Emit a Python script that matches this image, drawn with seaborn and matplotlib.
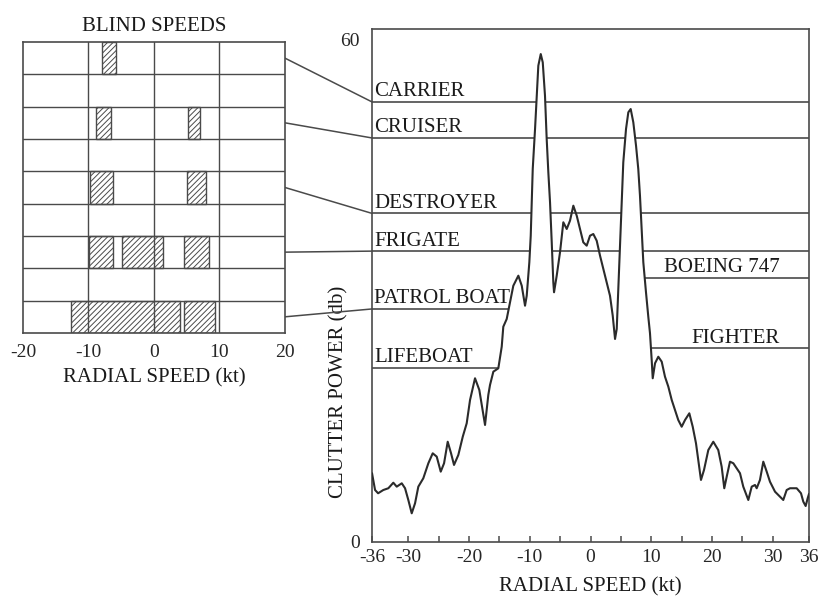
import numpy as np
import pandas as pd
import matplotlib
matplotlib.use("Agg")
import matplotlib.pyplot as plt
from matplotlib.patches import ConnectionPatch
import seaborn as sns

# Sea clutter power spectrum versus radial speed
speed_kt = [-36.0, -35.5, -35.0, -34.14, -33.31, -32.49, -31.93, -31.10, -30.56, -30.02,
            -29.46, -28.91, -28.37, -27.55, -26.72, -26.00, -25.34, -24.68, -24.13, -23.53,
            -22.98, -22.49, -21.78, -21.05, -20.40, -19.85, -19.03, -18.32, -17.38, -16.84,
            -16.56, -16.01, -15.19, -14.63, -14.37, -13.81, -13.26, -12.72, -11.89, -11.33,
            -10.79, -10.51, -10.08, -9.85, -9.52, -9.14, -8.86, -8.60, -8.20, -7.87,
            -7.50, -7.22, -6.95, -6.67, -6.39, -6.13, -6.01, -5.57, -5.02, -4.48,
            -3.92, -3.38, -2.83, -2.27, -1.73, -1.19, -0.63, -0.08, 0.46, 1.02,
            1.57, 2.11, 2.67, 3.21, 3.66, 4.04, 4.32, 4.58, 4.86, 5.14,
            5.40, 5.85, 6.23, 6.62, 7.05, 7.50, 7.87, 8.15, 8.43, 8.70,
            9.14, 9.52, 9.80, 10.08, 10.25, 10.63, 11.17, 11.73, 12.27, 12.82,
            13.38, 13.92, 14.46, 15.02, 15.57, 16.28, 16.84, 17.38, 17.76, 18.20,
            18.70, 19.41, 20.23, 21.05, 21.61, 22.04, 22.44, 22.98, 23.53, 24.09,
            24.63, 25.17, 26.00, 26.56, 27.10, 27.38, 27.92, 28.47, 29.03, 29.57,
            30.40, 31.22, 31.76, 32.32, 32.87, 33.97, 34.68, 35.06, 35.45, 35.78,
            36.0]
clutter_db = [8.20, 6.20, 5.81, 6.20, 6.41, 7.07, 6.60, 7.00, 6.41, 5.01,
              3.42, 4.62, 6.60, 7.60, 9.39, 10.58, 10.18, 8.39, 9.39, 11.96,
              10.58, 9.19, 10.38, 12.56, 14.16, 16.94, 19.53, 18.13, 13.96, 17.54,
              18.73, 20.32, 20.72, 23.30, 25.68, 26.60, 28.59, 30.57, 31.77, 30.57,
              28.19, 29.38, 33.37, 36.54, 44.50, 49.27, 53.24, 56.82, 58.21, 57.22,
              53.24, 48.07, 44.10, 40.52, 35.75, 30.98, 29.79, 31.77, 34.59, 38.14,
              37.34, 38.33, 40.12, 38.92, 37.34, 35.75, 35.35, 36.54, 36.74, 35.94,
              34.15, 32.57, 30.98, 29.38, 27.00, 24.22, 25.41, 30.18, 35.35, 40.12,
              45.29, 49.27, 51.26, 51.65, 50.07, 47.28, 44.50, 41.31, 37.34, 33.37,
              29.79, 26.88, 24.90, 21.71, 19.53, 21.32, 22.10, 21.51, 19.72, 18.53,
              16.94, 15.75, 14.55, 13.75, 14.55, 15.35, 13.75, 11.77, 9.78, 7.40,
              8.59, 10.97, 11.96, 10.97, 8.98, 6.41, 7.79, 9.58, 9.39, 8.79,
              8.20, 6.60, 5.01, 6.60, 6.80, 6.41, 7.40, 9.58, 8.39, 7.19,
              6.00, 5.40, 5.01, 6.20, 6.41, 6.41, 5.81, 4.81, 4.29, 5.21,
              5.73]

# Target return levels and where each sits in the spectrum
targets = ["CARRIER", "CRUISER", "DESTROYER", "FRIGATE", "PATROL BOAT",
           "LIFEBOAT", "BOEING 747", "FIGHTER"]
target_db = [52.5, 48.2, 39.2, 34.7, 27.8, 20.8, 31.5, 23.1]
target_side = ["both", "both", "both", "both", "left", "left", "right", "right"]

# Blind speed bands (kt) for the ship classes
blind_targets = ["CARRIER", "CRUISER", "DESTROYER", "FRIGATE", "PATROL BOAT"]
blind_start = [[-7.9], [-8.9, 5.2], [-9.7, 5.0], [-9.9, -4.9, 4.6], [-12.7, 4.6]]
blind_end = [[-5.8], [-6.6, 7.0], [-6.2, 8.0], [-6.2, 1.3, 8.4], [3.95, 9.3]]

main_ticks = [-36, -30, -20, -10, 0, 10, 20, 30, 36]
minor_ticks = [-25, -15, -5, 5, 15, 25]
inset_ticks = [-20, -10, 0, 10, 20]

sns.set_theme(style="white")
plt.rcParams["font.family"] = ["Liberation Serif", "DejaVu Serif"]
plt.rcParams["axes.unicode_minus"] = False
plt.rcParams["hatch.linewidth"] = 0.7

INK = "#2b2b2b"
LINE = "#4a4a4a"
FS = 15

fig = plt.figure(figsize=(8.18, 5.99), dpi=100)
ax = fig.add_axes([0.4548, 0.0952, 0.5342, 0.8564])
ax_in = fig.add_axes([0.0281, 0.4441, 0.3203, 0.4858])

# ---- main spectrum ----
df = pd.DataFrame({"speed": speed_kt, "power": clutter_db})
sns.lineplot(data=df, x="speed", y="power", ax=ax, color=INK, lw=1.5,
             estimator=None, sort=False, zorder=3)

xmin, xmax = -36, 36
ax.set_xlim(xmin, xmax)
ax.set_ylim(0, 61.2)

x = np.asarray(speed_kt)
y = np.asarray(clutter_db)


def crossings(level):
    s = np.sign(y - level)
    idx = np.where(np.diff(s) != 0)[0]
    return [x[i] + (level - y[i]) * (x[i + 1] - x[i]) / (y[i + 1] - y[i]) for i in idx]


for name, level, side in zip(targets, target_db, target_side):
    xs = crossings(level)
    segs = []
    if side in ("left", "both"):
        segs.append((xmin, xs[0]))
    if side == "both" and len(xs) >= 4:
        segs.append((xs[1], xs[-2]))
    if side in ("right", "both"):
        segs.append((xs[-1], xmax))
    for a, b in segs:
        ax.hlines(level, a, b, color=LINE, lw=1.2, zorder=2)
    if side == "right":
        ax.annotate(name, xy=(31.1, level), xytext=(0, 4), textcoords="offset points",
                    ha="right", va="baseline", fontsize=FS, color="#1a1a1a")
    else:
        ax.annotate(name, xy=(xmin, level), xytext=(1.5, 4), textcoords="offset points",
                    ha="left", va="baseline", fontsize=FS, color="#1a1a1a")

ax.set_xticks(main_ticks)
ax.set_xticklabels([str(t) for t in main_ticks])
ax.set_xticks(minor_ticks, minor=True)
ax.set_yticks([0, 60])
ax.set_yticklabels(["0", "60"])
ax.tick_params(axis="x", which="both", direction="in", length=4, width=1.1,
               color=LINE, labelsize=14, pad=5, bottom=True)
ax.tick_params(axis="y", length=0, labelsize=14, pad=9)
for sp in ax.spines.values():
    sp.set_color(LINE)
    sp.set_linewidth(1.2)
ax.set_xlabel("RADIAL SPEED (kt)", fontsize=FS, labelpad=8, color="#1a1a1a")
ax.set_ylabel("CLUTTER POWER (db)", fontsize=FS, color="#1a1a1a",
              bbox=dict(fc="white", ec="none", pad=2))
ax.yaxis.set_label_coords(-0.055, 0.292)

# ---- blind speed panel ----
n_rows = 2 * len(blind_targets) - 1
ax_in.set_xlim(-20, 20)
ax_in.set_ylim(n_rows, 0)
for r in range(1, n_rows):
    ax_in.axhline(r, color=LINE, lw=1.0, zorder=1)
for v in (-10, 0, 10):
    ax_in.axvline(v, color=LINE, lw=1.0, zorder=1)
for i, (starts, ends) in enumerate(zip(blind_start, blind_end)):
    row = 2 * i
    for a, b in zip(starts, ends):
        ax_in.barh(row + 0.5, b - a, left=a, height=1.0, facecolor="none",
                   edgecolor=LINE, hatch="//////", lw=1.0, zorder=2)

ax_in.set_xticks(inset_ticks)
ax_in.set_xticklabels([str(t) for t in inset_ticks])
ax_in.set_yticks([])
ax_in.tick_params(axis="x", length=0, labelsize=14, pad=8)
for sp in ax_in.spines.values():
    sp.set_color(LINE)
    sp.set_linewidth(1.2)
ax_in.set_title("BLIND SPEEDS", fontsize=FS, pad=8, color="#1a1a1a")
ax_in.set_xlabel("RADIAL SPEED (kt)", fontsize=FS, labelpad=5, color="#1a1a1a")

# leader lines from each blind-speed row to its target level
for i, name in enumerate(blind_targets):
    level = target_db[targets.index(name)]
    con = ConnectionPatch(xyA=(20, 2 * i + 0.5), coordsA=ax_in.transData,
                          xyB=(xmin, level), coordsB=ax.transData,
                          color=LINE, lw=1.1, zorder=1)
    ax.add_artist(con)

fig.savefig("out.png", dpi=100, facecolor="white")
